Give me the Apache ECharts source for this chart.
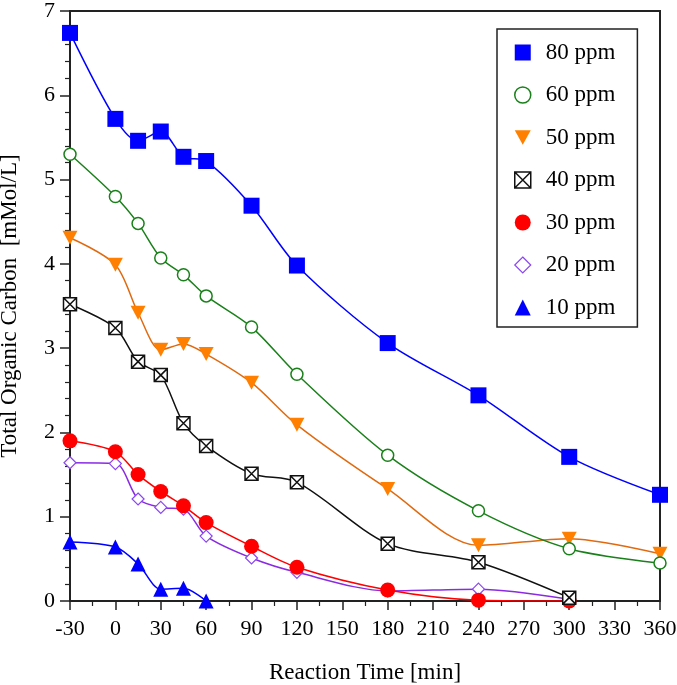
<!DOCTYPE html>
<html>
<head>
<meta charset="utf-8">
<script src="https://cdn.jsdelivr.net/npm/echarts@6/dist/echarts.min.js"></script>
<style>
html,body{margin:0;padding:0;background:#fff;}
#chart{width:677px;height:685px;}
</style>
</head>
<body>
<div id="chart"></div>
<script>
// Reaction time (min)
const times = [-30, 0, 15, 30, 45, 60, 90, 120, 180, 240, 300, 360];
// Total organic carbon (mMol/L)
const ppm80 = [6.74, 5.72, 5.46, 5.57, 5.27, 5.22, 4.69, 3.98, 3.06, 2.44, 1.71, 1.26];
const ppm60 = [5.30, 4.80, 4.48, 4.07, 3.87, 3.62, 3.25, 2.69, 1.73, 1.07, 0.62, 0.45];
const ppm50 = [4.31, 3.99, 3.42, 2.98, 3.05, 2.93, 2.59, 2.09, 1.33, 0.66, 0.74, 0.56];
const ppm40 = [3.52, 3.24, 2.84, 2.68, 2.11, 1.84, 1.51, 1.41, 0.68, 0.46, 0.04];
const ppm30 = [1.90, 1.77, 1.50, 1.30, 1.13, 0.93, 0.65, 0.40, 0.13, 0.01, 0.00];
const ppm20 = [1.64, 1.63, 1.21, 1.11, 1.09, 0.77, 0.51, 0.34, 0.12, 0.14, 0.02];
const ppm10 = [0.70, 0.64, 0.44, 0.14, 0.15, 0.00];
const seriesNames = ['80 ppm', '60 ppm', '50 ppm', '40 ppm', '30 ppm', '20 ppm', '10 ppm'];
const xTickMin = -30, xTickMax = 360, xTickStep = 30;
const yTickMin = 0, yTickMax = 7, yTickStep = 1;

const FONT = 'Liberation Serif';
const boxX = 'path://M0,0L10,0L10,10L0,10Z M0,0L10,10 M10,0L0,10';
const triDown = 'path://M0,0L10,0L5,9Z';

function pairs(vals) { return vals.map((v, i) => [times[i], v]); }

const styles = {
  '80 ppm': {symbol: 'rect', size: 16, fill: '#0000ff', stroke: '#0000ff', bw: 0, line: '#0000ff', data: ppm80},
  '60 ppm': {symbol: 'circle', size: 12, fill: '#ffffff', stroke: '#1a801a', bw: 1.5, line: '#1a801a', data: ppm60},
  '50 ppm': {symbol: triDown, size: [15, 14], fill: '#ff8000', stroke: '#ff8000', bw: 0, line: '#e06a10', data: ppm50},
  '40 ppm': {symbol: boxX, size: 13, fill: '#ffffff', stroke: '#111111', bw: 1.5, line: '#111111', data: ppm40},
  '30 ppm': {symbol: 'circle', size: 15, fill: '#ff0000', stroke: '#ff0000', bw: 0, line: '#ff0000', data: ppm30},
  '20 ppm': {symbol: 'diamond', size: 12, fill: '#ffffff', stroke: '#8a46f0', bw: 1.2, line: '#8a2be2', data: ppm20},
  '10 ppm': {symbol: 'triangle', size: 15, fill: '#0000ff', stroke: '#0000ff', bw: 0, line: '#0000ff', data: ppm10}
};

const drawOrder = ['10 ppm', '20 ppm', '30 ppm', '50 ppm', '60 ppm', '40 ppm', '80 ppm'];

const series = drawOrder.map(name => {
  const s = styles[name];
  return {
    name: name,
    type: 'line',
    data: pairs(s.data),
    smooth: 0.3,
    symbol: s.symbol,
    symbolSize: s.size,
    showAllSymbol: true,
    itemStyle: {color: s.fill, borderColor: s.stroke, borderWidth: s.bw, opacity: 1},
    lineStyle: {color: s.line, width: 1.5},
    emphasis: {disabled: true},
    z: 2
  };
});

const legendData = seriesNames.map(name => {
  const s = styles[name];
  return {
    name: name,
    icon: s.symbol,
    itemStyle: {color: s.fill, borderColor: s.stroke, borderWidth: s.bw}
  };
});

const chart = echarts.init(document.getElementById('chart'), null, {renderer: 'canvas'});
chart.setOption({
  animation: false,
  backgroundColor: '#ffffff',
  textStyle: {fontFamily: FONT},
  grid: {left: 70, right: 17, top: 11, bottom: 84, show: true, borderColor: '#222', borderWidth: 2,
         backgroundColor: 'transparent', containLabel: false, outerBoundsMode: 'none'},
  legend: {
    orient: 'vertical',
    left: 497,
    top: 29,
    padding: [12, 22, 8, 17],
    itemGap: 19.5,
    itemWidth: 16,
    itemHeight: 16,
    borderColor: '#222',
    borderWidth: 1.5,
    backgroundColor: '#fff',
    selectedMode: false,
    data: legendData,
    textStyle: {fontFamily: FONT, fontSize: 23, color: '#000', lineHeight: 22, padding: [0, 0, 0, 10]}
  },
  xAxis: {
    type: 'value',
    min: xTickMin,
    max: xTickMax,
    interval: xTickStep,
    name: 'Reaction Time [min]',
    nameLocation: 'middle',
    nameGap: 60,
    nameTextStyle: {fontFamily: FONT, fontSize: 23, color: '#000'},
    axisLine: {show: true, onZero: false, lineStyle: {color: '#222', width: 2}},
    axisTick: {show: true, inside: false, length: 9, lineStyle: {color: '#222', width: 1.5}},
    minorTick: {show: true, splitNumber: 2, length: 5, lineStyle: {color: '#222', width: 1.2}},
    axisLabel: {fontFamily: FONT, fontSize: 22, color: '#000', margin: 17},
    splitLine: {show: false}
  },
  yAxis: {
    type: 'value',
    min: yTickMin,
    max: yTickMax,
    interval: yTickStep,
    name: 'Total Organic Carbon  [mMol/L]',
    nameLocation: 'middle',
    nameGap: 49,
    nameTextStyle: {fontFamily: FONT, fontSize: 23, color: '#000'},
    axisLine: {show: true, onZero: false, lineStyle: {color: '#222', width: 2}},
    axisTick: {show: true, inside: false, length: 10, lineStyle: {color: '#222', width: 1.5}},
    minorTick: {show: true, splitNumber: 5, length: 5, lineStyle: {color: '#222', width: 1.2}},
    axisLabel: {fontFamily: FONT, fontSize: 22, color: '#000', margin: 15},
    splitLine: {show: false}
  },
  series: series
});
</script>
</body>
</html>
